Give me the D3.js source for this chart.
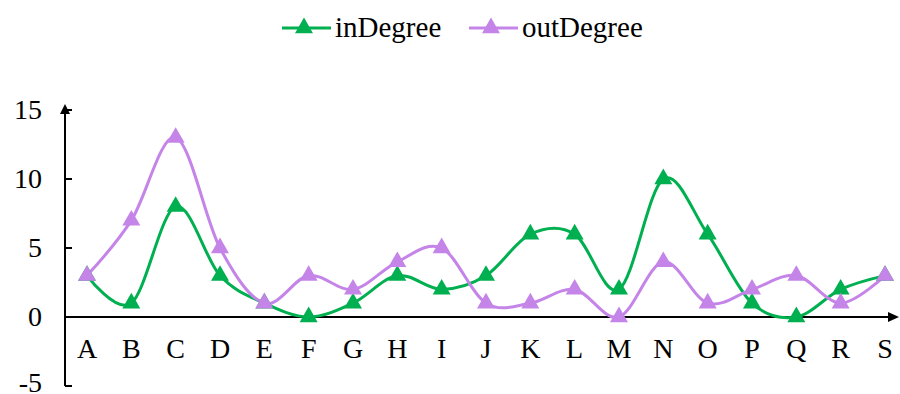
<!DOCTYPE html>
<html><head><meta charset="utf-8">
<script src="https://cdn.jsdelivr.net/npm/d3@7"></script>
<style>body{margin:0;background:#fff}svg{display:block}</style>
</head><body>
<svg id="c" width="900" height="394"></svg>
<script>
const categories = ["A","B","C","D","E","F","G","H","I","J","K","L","M","N","O","P","Q","R","S"];
const inDegree  = [3,1,8,3,1,0,1,3,2,3,6,6,2,10,6,1,0,2,3];
const outDegree = [3,7,13,5,1,3,2,4,5,1,1,2,0,4,1,2,3,1,3];
const yTicks = [-5,0,5,10,15];
const seriesNames = ["inDegree","outDegree"];
const colors = ["#00b050","#c584e8"];

const svg = d3.select("#c");
const font = "Liberation Serif, Times New Roman, serif";
const x = d3.scalePoint().domain(categories).range([87,885]);
const y = d3.scaleLinear().domain([-5,15]).range([386,110]);
const x0 = 65;

// axes
svg.append("line").attr("x1",x0).attr("x2",x0).attr("y1",y(-5)).attr("y2",y(15)-2).attr("stroke","#000").attr("stroke-width",2);
svg.append("path").attr("d",`M${x0-5},${y(15)+4}L${x0},${y(15)-6}L${x0+5},${y(15)+4}Z`).attr("fill","#000");
svg.append("line").attr("x1",x0).attr("x2",892).attr("y1",y(0)).attr("y2",y(0)).attr("stroke","#000").attr("stroke-width",2);
svg.append("path").attr("d",`M888,${y(0)-5}L899,${y(0)}L888,${y(0)+5}Z`).attr("fill","#000");

yTicks.forEach(t=>{
  svg.append("line").attr("x1",x0).attr("x2",x0+7).attr("y1",y(t)).attr("y2",y(t)).attr("stroke","#000").attr("stroke-width",2);
  svg.append("text").attr("x",42).attr("y",Math.min(y(t)+9,392)).attr("text-anchor","end")
    .style("font-family",font).style("font-size","28px").text(t);
});
categories.forEach(c=>{
  svg.append("text").attr("x",x(c)).attr("y",358).attr("text-anchor","middle")
    .style("font-family",font).style("font-size","28px").text(c);
});

const line = d3.line().x((d,i)=>x(categories[i])).y(d=>y(d)).curve(d3.curveCatmullRom.alpha(0));
const tri = d3.symbol().type(d3.symbolTriangle).size(140);
[inDegree,outDegree].forEach((s,k)=>{
  svg.append("path").attr("d",line(s)).attr("fill","none").attr("stroke",colors[k]).attr("stroke-width",3);
});
[inDegree,outDegree].forEach((s,k)=>{
  s.forEach((v,i)=>{
    svg.append("path").attr("d",tri).attr("transform",`translate(${x(categories[i])},${y(v)})`).attr("fill",colors[k]);
  });
});

// legend
const legX = [282,469];
seriesNames.forEach((n,k)=>{
  const lx = legX[k];
  svg.append("line").attr("x1",lx).attr("x2",lx+49).attr("y1",28).attr("y2",28).attr("stroke",colors[k]).attr("stroke-width",3);
  svg.append("path").attr("d",tri).attr("transform",`translate(${lx+22},28)`).attr("fill",colors[k]);
  svg.append("text").attr("x",lx+53).attr("y",37).style("font-family",font).style("font-size","29px").text(n);
});
</script>
</body></html>
